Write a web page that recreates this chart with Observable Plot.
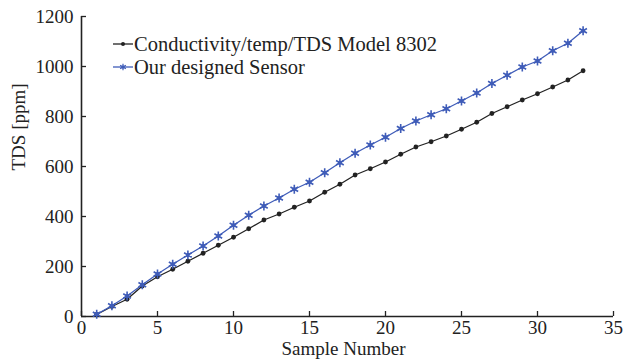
<!DOCTYPE html>
<html>
<head>
<meta charset="utf-8">
<script src="https://cdn.jsdelivr.net/npm/d3@7"></script>
<script src="https://cdn.jsdelivr.net/npm/@observablehq/plot@0.6"></script>
<style>
  body { margin: 0; background: white; }
</style>
</head>
<body>
<div id="chart"></div>
<script>
const samples = d3.range(1, 34);
const meterTDS = [8, 40, 69, 122, 159, 189, 221, 253, 285, 317, 351, 386, 410, 437, 462, 497, 529, 566, 591, 618, 649, 678, 699, 722, 749, 777, 812, 839, 866, 891, 918, 946, 983];
const sensorTDS = [9, 43, 82, 127, 170, 209, 246, 282, 322, 365, 405, 442, 474, 509, 537, 575, 615, 653, 686, 717, 752, 782, 807, 831, 862, 894, 932, 965, 998, 1022, 1063, 1093, 1143];
const seriesNames = ["Conductivity/temp/TDS Model 8302", "Our designed Sensor"];
const xTicks = [0, 5, 10, 15, 20, 25, 30, 35];
const yTicks = [0, 200, 400, 600, 800, 1000, 1200];

const black = "#222222";
const blue = "#3f5cb8";

const meter = samples.map((s, i) => ({x: s, y: meterTDS[i]}));
const sensor = samples.map((s, i) => ({x: s, y: sensorTDS[i]}));
const fmt = d => String(d);

const chart = Plot.plot({
  width: 629,
  height: 362,
  marginLeft: 81,
  marginRight: 16,
  marginTop: 16,
  marginBottom: 46,
  style: {fontFamily: "'Liberation Serif', serif", fontSize: "19px", background: "white", color: "#222"},
  x: {domain: [0, 35]},
  y: {domain: [0, 1200]},
  marks: [
    Plot.axisY({ticks: yTicks, tickFormat: fmt, tickSize: 0, tickPadding: 8, label: null, fill: "#222"}),
    Plot.axisY({ticks: yTicks, tickSize: 5, text: null, label: null, dx: 5, stroke: "#222", strokeWidth: 1.3}),
    Plot.axisX({ticks: xTicks, tickFormat: fmt, tickSize: 0, tickPadding: 4, label: null, fill: "#222"}),
    Plot.axisX({ticks: xTicks, tickSize: 5, text: null, label: null, dy: -5, stroke: "#222", strokeWidth: 1.3}),
    Plot.ruleX([0], {stroke: "#222", strokeWidth: 1.6}),
    Plot.ruleY([0], {stroke: "#222", strokeWidth: 1.6}),
    Plot.text(["TDS [ppm]"], {frameAnchor: "left", rotate: -90, dx: -63, dy: 4, fill: "#222", fontSize: 19}),
    Plot.text(["Sample Number"], {frameAnchor: "bottom", dy: 38, dx: -4, fill: "#222", fontSize: 19}),
    Plot.line(meter, {x: "x", y: "y", stroke: black, strokeWidth: 1.3}),
    Plot.dot(meter, {x: "x", y: "y", r: 2.4, fill: black}),
    Plot.line(sensor, {x: "x", y: "y", stroke: blue, strokeWidth: 1.3}),
    Plot.dot(sensor, {x: "x", y: "y", r: 4.2, symbol: "asterisk", stroke: blue, strokeWidth: 1.6}),
    Plot.dot(sensor, {x: "x", y: "y", r: 2, fill: blue})
  ]
});

// Legend inside the plot area
const svg = d3.select(chart);
const legend = svg.append("g")
  .attr("font-family", "'Liberation Serif', serif")
  .attr("font-size", 20.5)
  .attr("text-anchor", "start");
const entries = [
  {name: seriesNames[0], color: black, star: false},
  {name: seriesNames[1], color: blue, star: true}
];
entries.forEach((e, i) => {
  const y = 44 + i * 23;
  const g = legend.append("g").attr("transform", `translate(113,${y})`);
  g.append("line").attr("x1", 0).attr("x2", 20).attr("y1", 0).attr("y2", 0).attr("stroke", e.color).attr("stroke-width", 1.3);
  if (e.star) {
    g.append("path").attr("transform", "translate(10,0)").attr("d", d3.symbol(d3.symbolAsterisk, 30)()).attr("stroke", e.color).attr("stroke-width", 1.2).attr("fill", "none");
    g.append("circle").attr("cx", 10).attr("r", 1.6).attr("fill", e.color);
  } else {
    g.append("circle").attr("cx", 10).attr("r", 2).attr("fill", e.color);
  }
  g.append("text").attr("x", 21).attr("y", 0).attr("dy", "0.35em").attr("text-anchor", "start").attr("fill", "#222").text(e.name);
});

document.getElementById("chart").appendChild(chart);
</script>
</body>
</html>
